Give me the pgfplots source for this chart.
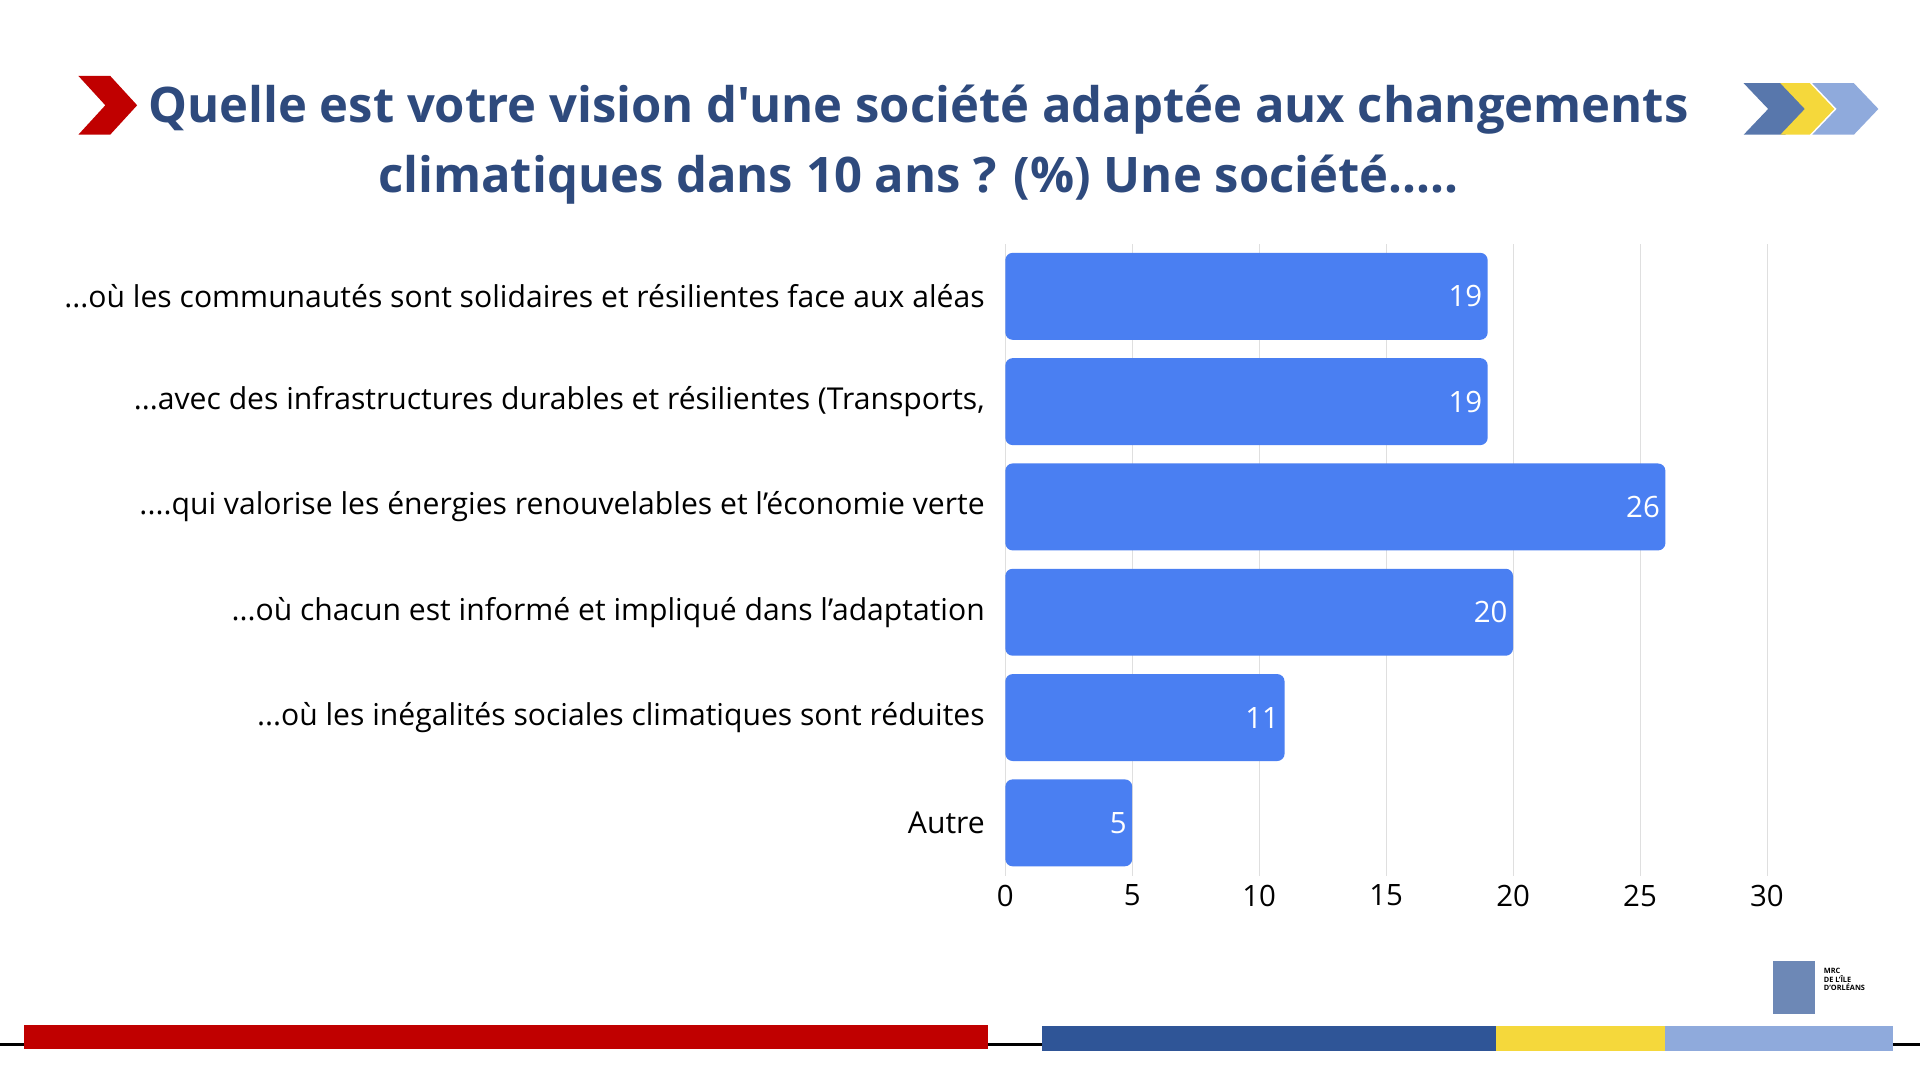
\documentclass[border=0pt]{standalone}
\usepackage{pgfplots}
\pgfplotsset{compat=1.18}
\usepackage{fontspec}
\setmainfont{Open Sans}
\newfontfamily\titlefont{Open Sans}[Ligatures=ResetAll]
\definecolor{titleblue}{HTML}{2E4A7D}
\definecolor{barblue}{HTML}{4A7FF2}
\definecolor{dkred}{HTML}{C00000}
\definecolor{stripeblue}{HTML}{2F5597}
\definecolor{stripeyellow}{HTML}{F5D83B}
\definecolor{stripelight}{HTML}{8FAADC}
\newcommand\labA{Autre}
\newcommand\labB{...où les inégalités sociales climatiques sont réduites}
\newcommand\labC{...où chacun est informé et impliqué dans l’adaptation}
\newcommand\labD{....qui valorise les énergies renouvelables et l’économie verte}
\newcommand\labE{...avec des infrastructures durables et résilientes (Transports,}
\newcommand\labF{...où les communautés sont solidaires et résilientes face aux aléas}
\begin{document}
\begin{tikzpicture}[x=1pt,y=1pt]
\useasboundingbox[fill=white] (0,0) rectangle (1568pt,882pt);
% title
\node[font=\titlefont\fontsize{40}{57}\selectfont\bfseries, text=titleblue, align=center] at (750,882-118) {Quelle est votre vision d'une société adaptée aux changements\\climatiques dans 10 ans ? (\%) Une société.....};
% red chevron
\fill[dkred] (64,882-62) -- (90,882-62) -- (112,882-86) -- (90,882-110) -- (64,882-110) -- (86,882-86) -- cycle;
% right chevrons
\fill[stripeblue!80] (1424,882-68) -- (1458,882-68) -- (1478,882-89) -- (1458,882-110) -- (1424,882-110) -- (1444,882-89) -- cycle;
\fill[stripeyellow] (1454,882-68) -- (1478,882-68) -- (1498,882-89) -- (1478,882-110) -- (1454,882-110) -- (1474,882-89) -- cycle;
\fill[stripelight] (1480,882-68) -- (1514,882-68) -- (1534,882-89) -- (1514,882-110) -- (1480,882-110) -- (1500,882-89) -- cycle;
% bottom stripes
\draw[line width=3pt] (0,882-853) -- (1568,882-853);
\fill[dkred] (20,882-837) rectangle (807,882-857);
\fill[stripeblue] (851,882-838) rectangle (1222,882-858);
\fill[stripeyellow] (1222,882-838) rectangle (1360,882-858);
\fill[stripelight] (1360,882-838) rectangle (1546,882-858);
% logo
\fill[stripeblue!70] (1448,882-785) rectangle (1482,882-828);
\node[font=\fontsize{6}{7}\selectfont\bfseries, align=left, anchor=west] at (1486,882-800) {MRC\\DE L'ÎLE\\D'ORLÉANS};
\begin{axis}[
  at={(821pt,167pt)}, anchor=south west,
  scale only axis, width=622pt, height=516pt,
  xmin=0, xmax=30, ymin=0.5, ymax=6.5,
  xbar, bar width=71pt,
  xtick={0,5,10,15,20,25,30},
  ytick={1,2,3,4,5,6},
  yticklabels={\labA,\labB,\labC,\labD,\labE,\labF},
  ticklabel style={font=\fontsize{24}{28}\selectfont},
  yticklabel style={xshift=-9pt, font=\fontsize{24.6}{28}\selectfont},
  xticklabel style={yshift=-4pt},
  /pgf/number format/assume math mode=true,
  xmajorgrids, grid style={gray!25},
  axis line style={draw=none},
  major tick style={draw=none},
  nodes near coords,
  every node near coord/.append style={anchor=east, xshift=-1pt, text=white, font=\fontsize{24}{28}\selectfont},
]
\addplot[fill=barblue, draw=none, rounded corners=6pt] coordinates {(5,1) (11,2) (20,3) (26,4) (19,5) (19,6)};
\end{axis}
\end{tikzpicture}
\end{document}
